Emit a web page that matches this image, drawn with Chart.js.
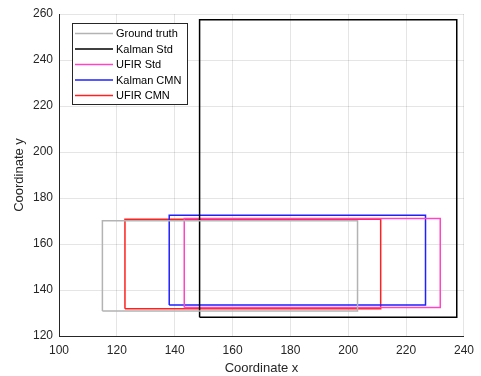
<!DOCTYPE html>
<html>
<head>
<meta charset="utf-8">
<script src="https://cdn.jsdelivr.net/npm/chart.js@4.4.0/dist/chart.umd.min.js"></script>
<style>
  html, body { margin: 0; padding: 0; background: #fff; }
  #wrap { width: 481px; height: 376px; }
</style>
</head>
<body>
<div id="wrap"><canvas id="chart" width="481" height="376"></canvas></div>
<script>
// séries (retângulos): limites
const seriesNames = ["Ground truth", "Kalman Std", "UFIR Std", "Kalman CMN", "UFIR CMN"];
const seriesColors = ["#b3b3b3", "#000000", "#ff44c4", "#2020ff", "#ff2020"];
const xLeft   = [115.0, 148.6, 143.3, 138.1, 122.8];
const xRight  = [203.2, 237.5, 231.8, 226.7, 211.2];
const yBottom = [130.9, 128.1, 132.4, 133.5, 131.9];
const yTop    = [170.1, 257.5, 171.1, 172.5, 170.8];
const xTicks = [100, 120, 140, 160, 180, 200, 220, 240];
const yTicks = [120, 140, 160, 180, 200, 220, 240, 260];

const axisColor = "#262626";
const fontFamily = "Arial, 'Liberation Sans', Helvetica, sans-serif";

// monta os pontos de cada retângulo fechado
function rectPoints(i) {
    return [
        { x: xLeft[i], y: yBottom[i] },
        { x: xRight[i], y: yBottom[i] },
        { x: xRight[i], y: yTop[i] },
        { x: xLeft[i], y: yTop[i] },
        { x: xLeft[i], y: yBottom[i] }
    ];
}

const datasets = seriesNames.map((name, i) => ({
    label: name,
    data: rectPoints(i),
    borderColor: seriesColors[i],
    backgroundColor: seriesColors[i],
    borderWidth: 1.5,
    showLine: true,
    fill: false,
    pointRadius: 0,
    tension: 0
}));

// legenda desenhada dentro da área do gráfico
const insideLegend = {
    id: 'insideLegend',
    afterDraw(chart) {
        const ctx = chart.ctx;
        const bx = 72, by = 23, bw = 115, bh = 81;
        ctx.save();
        ctx.fillStyle = "#fff";
        ctx.fillRect(bx, by, bw, bh);
        ctx.strokeStyle = axisColor;
        ctx.lineWidth = 1;
        ctx.strokeRect(bx + 0.5, by + 0.5, bw, bh);
        ctx.font = "11px " + fontFamily;
        ctx.textBaseline = "middle";
        const rowY = [33.5, 49, 64.5, 80, 95.5];
        seriesNames.forEach((name, i) => {
            ctx.strokeStyle = seriesColors[i];
            ctx.lineWidth = 1.5;
            ctx.beginPath();
            ctx.moveTo(75, rowY[i]);
            ctx.lineTo(113, rowY[i]);
            ctx.stroke();
            ctx.fillStyle = "#000";
            ctx.fillText(name, 116, rowY[i] + 0.5);
        });
        ctx.restore();
    }
};

const ctx = document.getElementById('chart').getContext('2d');
const chart = new Chart(ctx, {
    type: 'scatter',
    data: { datasets: datasets },
    options: {
        responsive: false,
        animation: false,
        layout: { padding: { top: 14, right: 14, left: 12, bottom: 0 } },
        plugins: {
            legend: { display: false },
            tooltip: { enabled: false }
        },
        scales: {
            x: {
                type: 'linear',
                min: 100,
                max: 240,
                afterBuildTicks: (scale) => { scale.ticks = xTicks.map(v => ({ value: v })); },
                afterFit: (scale) => { scale.height = 40; },
                grid: { color: "rgba(0,0,0,0.1)", tickLength: 0, drawTicks: false },
                border: { display: true, color: axisColor, width: 1 },
                ticks: { color: axisColor, font: { size: 12, family: fontFamily }, padding: 7, maxRotation: 0 },
                title: { display: true, text: "Coordinate x", color: axisColor, font: { size: 13, family: fontFamily }, padding: { top: 1, bottom: 0 } }
            },
            y: {
                type: 'linear',
                min: 120,
                max: 260,
                afterBuildTicks: (scale) => { scale.ticks = yTicks.map(v => ({ value: v })); },
                afterFit: (scale) => { scale.width = 47; },
                grid: { color: "rgba(0,0,0,0.1)", tickLength: 0, drawTicks: false },
                border: { display: true, color: axisColor, width: 1 },
                ticks: { color: axisColor, font: { size: 12, family: fontFamily }, padding: 6 },
                title: { display: true, text: "Coordinate y", color: axisColor, font: { size: 13, family: fontFamily }, padding: { top: 0, bottom: 6 } }
            }
        }
    },
    plugins: [insideLegend]
});
</script>
</body>
</html>
